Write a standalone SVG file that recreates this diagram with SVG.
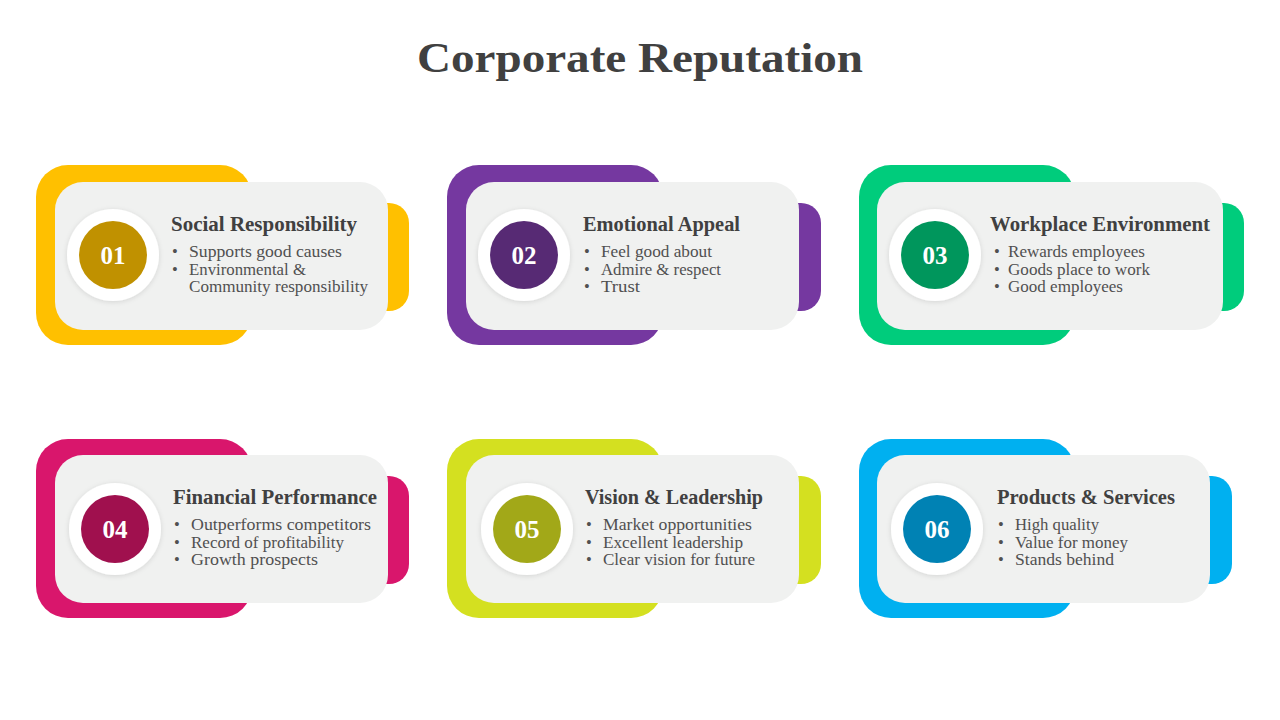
<svg xmlns="http://www.w3.org/2000/svg" width="1280" height="720" viewBox="0 0 1280 720">
<defs>
<filter id="sh" x="-30%" y="-30%" width="160%" height="160%">
<feDropShadow dx="0" dy="1" stdDeviation="2.5" flood-color="#000" flood-opacity="0.12"/>
</filter>
<style>
.card{fill:#F0F1F0}
.ring{fill:#FFFFFF;filter:url(#sh)}
.num{font-family:"Liberation Serif","DejaVu Serif",serif;font-weight:bold;font-size:25px;fill:#FFFFFF;text-anchor:middle}
.ttl{font-family:"Liberation Serif","DejaVu Serif",serif;font-weight:bold;font-size:20px;fill:#404040}
.blt{font-family:"Liberation Serif","DejaVu Serif",serif;font-size:16.5px;fill:#505050}
.head{font-family:"Liberation Serif","DejaVu Serif",serif;font-weight:bold;font-size:42px;fill:#404040;text-anchor:middle}
</style>
</defs>
<rect width="1280" height="720" fill="#FFFFFF"/>
<text class="head" x="640" y="72" textLength="446" lengthAdjust="spacingAndGlyphs">Corporate Reputation</text>

<g id="node-01">
<rect x="36" y="165" width="216" height="180" rx="32" fill="#FFC000"/>
<rect x="360" y="203" width="49" height="108" rx="20" fill="#FFC000"/>
<rect class="card" x="55" y="182" width="333" height="148" rx="28"/>
<circle class="ring" cx="113" cy="255" r="46"/>
<circle cx="113" cy="255" r="34" fill="#C09100"/>
<text class="num" x="113" y="264">01</text>
<text class="ttl" x="171" y="231" textLength="186" lengthAdjust="spacingAndGlyphs">Social Responsibility</text>
<text class="blt" x="172" y="257">•</text><text class="blt" x="189" y="257" textLength="153" lengthAdjust="spacingAndGlyphs">Supports good causes</text>
<text class="blt" x="172" y="275">•</text><text class="blt" x="189" y="275" textLength="117" lengthAdjust="spacingAndGlyphs">Environmental &amp;</text>
<text class="blt" x="189" y="292" textLength="179" lengthAdjust="spacingAndGlyphs">Community responsibility</text>
</g>

<g id="node-02">
<rect x="447" y="165" width="216" height="180" rx="32" fill="#7538A0"/>
<rect x="772" y="203" width="49" height="108" rx="20" fill="#7538A0"/>
<rect class="card" x="466" y="182" width="333" height="148" rx="28"/>
<circle class="ring" cx="524" cy="255" r="46"/>
<circle cx="524" cy="255" r="34" fill="#572A74"/>
<text class="num" x="524" y="264">02</text>
<text class="ttl" x="583" y="231" textLength="157" lengthAdjust="spacingAndGlyphs">Emotional Appeal</text>
<text class="blt" x="584" y="257">•</text><text class="blt" x="601" y="257" textLength="111" lengthAdjust="spacingAndGlyphs">Feel good about</text>
<text class="blt" x="584" y="275">•</text><text class="blt" x="601" y="275" textLength="120" lengthAdjust="spacingAndGlyphs">Admire &amp; respect</text>
<text class="blt" x="584" y="292">•</text><text class="blt" x="601" y="292" textLength="39" lengthAdjust="spacingAndGlyphs">Trust</text>
</g>

<g id="node-03">
<rect x="859" y="165" width="216" height="180" rx="32" fill="#00CC7C"/>
<rect x="1195" y="203" width="49" height="108" rx="20" fill="#00CC7C"/>
<rect class="card" x="877" y="182" width="346" height="148" rx="28"/>
<circle class="ring" cx="935" cy="255" r="46"/>
<circle cx="935" cy="255" r="34" fill="#00965C"/>
<text class="num" x="935" y="264">03</text>
<text class="ttl" x="990" y="231" textLength="220" lengthAdjust="spacingAndGlyphs">Workplace Environment</text>
<text class="blt" x="994" y="257">•</text><text class="blt" x="1008" y="257" textLength="137" lengthAdjust="spacingAndGlyphs">Rewards employees</text>
<text class="blt" x="994" y="275">•</text><text class="blt" x="1008" y="275" textLength="142" lengthAdjust="spacingAndGlyphs">Goods place to work</text>
<text class="blt" x="994" y="292">•</text><text class="blt" x="1008" y="292" textLength="115" lengthAdjust="spacingAndGlyphs">Good employees</text>
</g>

<g id="node-04">
<rect x="36" y="439" width="216" height="179" rx="32" fill="#D9166C"/>
<rect x="360" y="476" width="49" height="108" rx="20" fill="#D9166C"/>
<rect class="card" x="55" y="455" width="333" height="148" rx="28"/>
<circle class="ring" cx="115" cy="529" r="46"/>
<circle cx="115" cy="529" r="34" fill="#A0104E"/>
<text class="num" x="115" y="538">04</text>
<text class="ttl" x="173" y="504" textLength="204" lengthAdjust="spacingAndGlyphs">Financial Performance</text>
<text class="blt" x="174" y="530">•</text><text class="blt" x="191" y="530" textLength="180" lengthAdjust="spacingAndGlyphs">Outperforms competitors</text>
<text class="blt" x="174" y="548">•</text><text class="blt" x="191" y="548" textLength="153" lengthAdjust="spacingAndGlyphs">Record of profitability</text>
<text class="blt" x="174" y="565">•</text><text class="blt" x="191" y="565" textLength="127" lengthAdjust="spacingAndGlyphs">Growth prospects</text>
</g>

<g id="node-05">
<rect x="447" y="439" width="216" height="179" rx="32" fill="#D4E020"/>
<rect x="772" y="476" width="49" height="108" rx="20" fill="#D4E020"/>
<rect class="card" x="466" y="455" width="333" height="148" rx="28"/>
<circle class="ring" cx="527" cy="529" r="46"/>
<circle cx="527" cy="529" r="34" fill="#A2A818"/>
<text class="num" x="527" y="538">05</text>
<text class="ttl" x="585" y="504" textLength="178" lengthAdjust="spacingAndGlyphs">Vision &amp; Leadership</text>
<text class="blt" x="586" y="530">•</text><text class="blt" x="603" y="530" textLength="149" lengthAdjust="spacingAndGlyphs">Market opportunities</text>
<text class="blt" x="586" y="548">•</text><text class="blt" x="603" y="548" textLength="140" lengthAdjust="spacingAndGlyphs">Excellent leadership</text>
<text class="blt" x="586" y="565">•</text><text class="blt" x="603" y="565" textLength="152" lengthAdjust="spacingAndGlyphs">Clear vision for future</text>
</g>

<g id="node-06">
<rect x="859" y="439" width="216" height="179" rx="32" fill="#00B0F0"/>
<rect x="1183" y="476" width="49" height="108" rx="20" fill="#00B0F0"/>
<rect class="card" x="877" y="455" width="333" height="148" rx="28"/>
<circle class="ring" cx="937" cy="529" r="46"/>
<circle cx="937" cy="529" r="34" fill="#0082B4"/>
<text class="num" x="937" y="538">06</text>
<text class="ttl" x="997" y="504" textLength="178" lengthAdjust="spacingAndGlyphs">Products &amp; Services</text>
<text class="blt" x="998" y="530">•</text><text class="blt" x="1015" y="530" textLength="84" lengthAdjust="spacingAndGlyphs">High quality</text>
<text class="blt" x="998" y="548">•</text><text class="blt" x="1015" y="548" textLength="113" lengthAdjust="spacingAndGlyphs">Value for money</text>
<text class="blt" x="998" y="565">•</text><text class="blt" x="1015" y="565" textLength="99" lengthAdjust="spacingAndGlyphs">Stands behind</text>
</g>

<g id="connectors"></g>
</svg>
